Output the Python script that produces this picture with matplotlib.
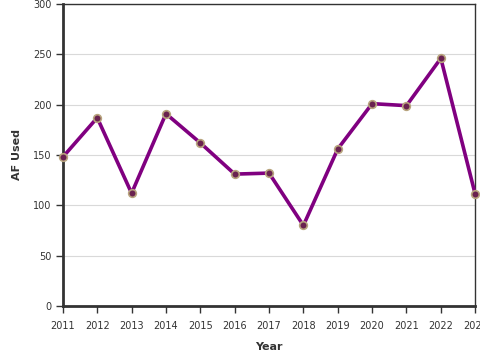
import matplotlib
matplotlib.use("Agg")
import matplotlib.pyplot as plt

years = [2011, 2012, 2013, 2014, 2015, 2016, 2017, 2018, 2019, 2020, 2021, 2022, 2023]
af_used = [148, 187, 112, 191, 162, 131, 132, 80, 156, 201, 199, 246, 111]

fig = plt.figure(figsize=(4.8, 3.6), dpi=100)
ax = fig.add_axes([0.131, 0.15, 0.859, 0.839])

ax.plot(years, af_used, color='#800080', linewidth=2.6, zorder=3, clip_on=False,
        marker='o', markersize=5.5, markerfacecolor='#6a2250', markeredgecolor='#b8a47e',
        markeredgewidth=1.2)

ax.set_xlim(2011, 2023)
ax.set_ylim(0, 300)
ax.set_xticks(years)
ax.set_yticks(range(0, 301, 50))
ax.grid(axis='y', color='#d9d9d9', linewidth=0.8)
ax.set_axisbelow(True)

for s in ['left', 'bottom']:
    ax.spines[s].set_linewidth(2)
    ax.spines[s].set_color('#333333')
for s in ['top', 'right']:
    ax.spines[s].set_linewidth(1)
    ax.spines[s].set_color('#333333')

ax.tick_params(labelsize=7, colors='#333333', length=5, width=1)
ax.tick_params(axis='x', pad=6)
ax.tick_params(axis='y', pad=3)
ax.set_xlabel('Year', fontsize=8, fontweight='bold', color='#333333', labelpad=8)
ax.set_ylabel('AF Used', fontsize=8, fontweight='bold', color='#333333', labelpad=8)

fig.savefig('out.png', dpi=100)
